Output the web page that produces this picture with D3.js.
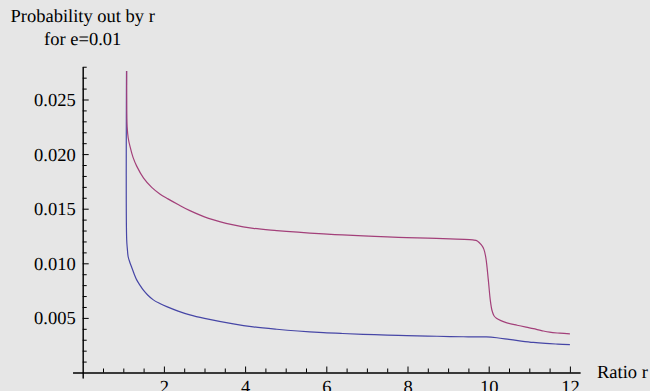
<html>

<head>
  <script src="https://d3js.org/d3.v7.min.js"></script>
  <style>
    body {
      margin: 0;
      background: #e6e6e6;
    }

    .axis path,
    .axis line {
      stroke: #000;
      stroke-width: 1;
    }
  </style>
</head>

<body>
  <svg id="chart" width="650" height="391"></svg>

  <script>
    // ----
    // DATA
    // ----
    // lower curve (blue)
    const blueX = [1.080, 1.083, 1.10, 1.12, 1.16, 1.21, 1.27, 1.33, 1.41, 1.49, 1.60, 1.74, 1.90, 2.07, 2.35, 2.64,
      3.00, 3.71, 4.20, 4.78, 5.30, 5.93, 6.40, 6.91, 7.50, 7.98, 8.50, 9.05, 9.50, 9.94, 10.2, 10.5, 10.8, 11.1,
      11.4, 11.7, 12.0];
    const blueY = [0.0285, 0.0122, 0.0113, 0.0106, 0.0101, 0.0096, 0.0090, 0.00848, 0.0080, 0.00756, 0.0071, 0.00665,
      0.00632, 0.00603, 0.00562, 0.00527, 0.00495, 0.00445, 0.00418, 0.00396, 0.0038, 0.00365, 0.00357, 0.0035,
      0.00343, 0.00338, 0.00334, 0.00329, 0.00327, 0.00326, 0.00318, 0.00303, 0.00288, 0.00275, 0.00266, 0.0026,
      0.00255];

    // upper curve (red)
    const redX = [1.080, 1.083, 1.086, 1.095, 1.12, 1.165, 1.24, 1.33, 1.50, 1.70, 1.90, 2.10, 2.35, 2.64, 3.10,
      3.71, 4.20, 4.78, 5.30, 5.93, 6.40, 6.91, 7.50, 7.98, 8.50, 9.05, 9.40, 9.61, 9.72, 9.82, 9.88, 9.93, 9.99,
      10.04, 10.08, 10.13, 10.19, 10.30, 10.43, 10.70, 10.92, 11.10, 11.30, 11.50, 11.75, 12.0];
    const redY = [0.0290, 0.0280, 0.0240, 0.0225, 0.0215, 0.0207, 0.0197, 0.0189, 0.0178, 0.01695, 0.01635, 0.0159,
      0.01538, 0.01482, 0.01412, 0.01352, 0.0132, 0.0130, 0.01285, 0.01269, 0.0126, 0.01251, 0.01242, 0.01235,
      0.0123, 0.01223, 0.0122, 0.01214, 0.01205, 0.01168, 0.0113, 0.0105, 0.0085, 0.0066, 0.0057, 0.0052, 0.00497,
      0.00475, 0.00457, 0.00433, 0.00415, 0.00401, 0.00384, 0.00369, 0.0036, 0.00353];

    const xMajor = [2, 4, 6, 8, 10, 12];
    const xMinor = [0.5, 1, 1.5, 2.5, 3, 3.5, 4.5, 5, 5.5, 6.5, 7, 7.5, 8.5, 9, 9.5, 10.5, 11, 11.5];
    const yMajor = [0.005, 0.010, 0.015, 0.020, 0.025];
    const yMinor = [0.001, 0.002, 0.003, 0.004, 0.006, 0.007, 0.008, 0.009, 0.011, 0.012, 0.013, 0.014,
      0.016, 0.017, 0.018, 0.019, 0.021, 0.022, 0.023, 0.024, 0.026, 0.027, 0.028];

    const titleLines = ["Probability out by r", "for e=0.01"];
    const xLabel = "Ratio r";

    // ----------
    // DIMENSIONS
    // ----------
    const svg = d3.select("svg#chart");

    // axes overshoot the data range a little, like the original
    const xScale = d3.scaleLinear().domain([-0.25, 12.25]).range([72.55, 580.05]);
    const yScale = d3.scaleLinear().domain([-0.0005, 0.028]).range([377.96, 66.74]);

    const x0 = xScale(0);
    const y0 = yScale(0);

    // ======
    //  AXES
    // ======
    // x axis: ticks point up into the plot
    svg.append("g").attr("class", "axis")
      .attr("transform", `translate(0,${y0})`)
      .call(d3.axisBottom(xScale).tickValues(xMinor).tickSize(-4).tickSizeOuter(0).tickFormat(""));
    svg.append("g").attr("class", "axis")
      .attr("transform", `translate(0,${y0})`)
      .call(d3.axisBottom(xScale).tickValues(xMajor).tickSize(-6).tickSizeOuter(0).tickPadding(7)
        .tickFormat(d3.format("d")));

    // y axis: ticks point right into the plot
    svg.append("g").attr("class", "axis")
      .attr("transform", `translate(${x0},0)`)
      .call(d3.axisLeft(yScale).tickValues(yMinor).tickSize(-4).tickSizeOuter(0).tickFormat(""));
    svg.append("g").attr("class", "axis")
      .attr("transform", `translate(${x0},0)`)
      .call(d3.axisLeft(yScale).tickValues(yMajor).tickSize(-6).tickSizeOuter(0).tickPadding(7)
        .tickFormat(d3.format(".3f")));

    // labels
    svg.append("text")
      .attr("x", 597)
      .attr("y", y0 + 5)
      .text(xLabel);

    svg.append("g").selectAll("text")
      .data(titleLines)
      .join("text")
      .attr("x", x0)
      .attr("y", (d, i) => 22 + i * 23)
      .attr("text-anchor", "middle")
      .text(d => d);

    // every text in Times-like serif, like the original
    svg.selectAll("text")
      .attr("font-family", "Liberation Serif")
      .attr("font-size", "18.5px")
      .attr("text-rendering", "geometricPrecision")
      .attr("fill", "#000");

    // ======
    // CURVES
    // ======
    svg.append("clipPath").attr("id", "plotClip")
      .append("rect")
      .attr("x", x0)
      .attr("y", yScale(0.0276))
      .attr("width", xScale(12.25) - x0)
      .attr("height", y0 - yScale(0.0276));

    const line = d3.line()
      .x(d => xScale(d[0]))
      .y(d => yScale(d[1]))
      .curve(d3.curveCatmullRom.alpha(0.5));

    const curves = [
      { pts: d3.zip(blueX, blueY), color: "#4646a6" },
      { pts: d3.zip(redX, redY), color: "#a3407a" }
    ];

    svg.append("g")
      .attr("clip-path", "url(#plotClip)")
      .selectAll("path")
      .data(curves)
      .join("path")
      .attr("fill", "none")
      .attr("stroke", d => d.color)
      .attr("stroke-width", 1.2)
      .attr("d", d => line(d.pts));
  </script>
</body>

</html>
